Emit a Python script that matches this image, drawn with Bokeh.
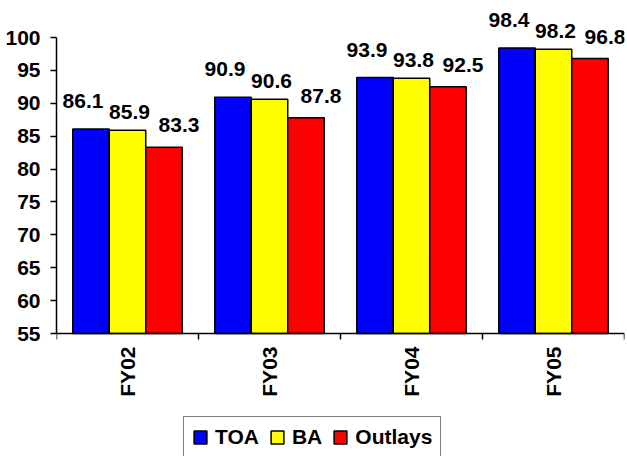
import math
from bokeh.plotting import figure
from bokeh.models import (Range1d, FixedTicker, ColumnDataSource, LabelSet,
                          Legend, LegendItem)
from bokeh.core.properties import value
from bokeh.embed import file_html
from bokeh.resources import INLINE

# ---- data ----
categories = ["FY02", "FY03", "FY04", "FY05"]
series_names = ["TOA", "BA", "Outlays"]
toa = [86.1, 90.9, 93.9, 98.4]
ba = [85.9, 90.6, 93.8, 98.2]
outlays = [83.3, 87.8, 92.5, 96.8]
y_ticks = [55, 60, 65, 70, 75, 80, 85, 90, 95, 100]

# ---- style / layout ----
colors = ["#0000FF", "#FFFF00", "#FF0000"]
FONT = "Liberation Sans"
FS = "21px"
bar_w = 0.257
label_dx = [-8, 2, 15]     # per-series label nudges (px)
label_dy = [21, 11, 15]
W, H = 627, 456
TOP, AXIS_PX = 37, 296      # pixel row of the 100 tick and pixel height of 55..100
span = y_ticks[-1] - y_ticks[0]
y_hi = y_ticks[-1] + span * TOP / AXIS_PX
y_lo = y_ticks[-1] - span * (H - TOP) / AXIS_PX

p = figure(width=W, height=H, output_backend="svg", toolbar_location=None,
           x_range=Range1d(0, len(categories)), y_range=Range1d(y_lo, y_hi),
           min_border_left=56, min_border_right=3, min_border_top=0,
           min_border_bottom=0)
p.outline_line_color = None
p.xgrid.visible = False
p.ygrid.visible = False
p.background_fill_color = "white"

all_series = [toa, ba, outlays]
items = []
for k, (name, vals) in enumerate(zip(series_names, all_series)):
    xs = [i + 0.5 + (k - 1) * bar_w for i in range(len(categories))]
    src = ColumnDataSource(dict(x=xs, top=vals, txt=[f"{v:.1f}" for v in vals]))
    r = p.vbar(x="x", top="top", bottom=y_ticks[0], width=bar_w, source=src,
               fill_color=colors[k], line_color="black", line_width=1.5)
    items.append(LegendItem(label=name, renderers=[r]))
    lbl = LabelSet(x="x", y="top", text="txt", source=src,
                   x_offset=label_dx[k], y_offset=label_dy[k],
                   text_align="center", text_baseline="alphabetic",
                   text_font=value(FONT), text_font_size=FS,
                   text_font_style="bold", text_color="black")
    p.add_layout(lbl)

# x axis: fixed at y=55, labels at centers, ticks at boundaries
centers = [i + 0.5 for i in range(len(categories))]
p.xaxis.fixed_location = y_ticks[0]
p.xaxis.ticker = FixedTicker(ticks=centers, minor_ticks=list(range(len(categories) + 1)))
p.xaxis.major_label_overrides = {c: n for c, n in zip(centers, categories)}
p.xaxis.major_tick_in = 0
p.xaxis.major_tick_out = 0
p.xaxis.minor_tick_in = 0
p.xaxis.minor_tick_out = 6
p.xaxis.minor_tick_line_color = "black"
p.xaxis.minor_tick_line_width = 1.5
p.xaxis.major_label_orientation = math.pi / 2
p.xaxis.major_label_standoff = 7

p.yaxis.ticker = FixedTicker(ticks=y_ticks, minor_ticks=[])
p.yaxis.bounds = (y_ticks[0], y_ticks[-1])
p.yaxis.major_tick_in = 0
p.yaxis.major_tick_out = 6
p.yaxis.major_label_standoff = 10

for ax in (p.xaxis, p.yaxis):
    ax.axis_line_color = "black"
    ax.axis_line_width = 1.5
    ax.major_tick_line_color = "black"
    ax.major_tick_line_width = 1.5
    ax.major_label_text_font = FONT
    ax.major_label_text_font_size = FS
    ax.major_label_text_font_style = "bold"
    ax.major_label_text_color = "black"

legend = Legend(items=items, orientation="horizontal", location=(127, -2),
                glyph_width=16, glyph_height=16, label_standoff=7, spacing=10,
                padding=8, margin=0, border_line_color="black", border_line_width=1,
                label_text_font=FONT, label_text_font_size=FS,
                label_text_font_style="bold", label_text_color="black",
                background_fill_color="white", background_fill_alpha=1)
p.add_layout(legend)

open("out.html", "w").write(file_html(p, INLINE))
